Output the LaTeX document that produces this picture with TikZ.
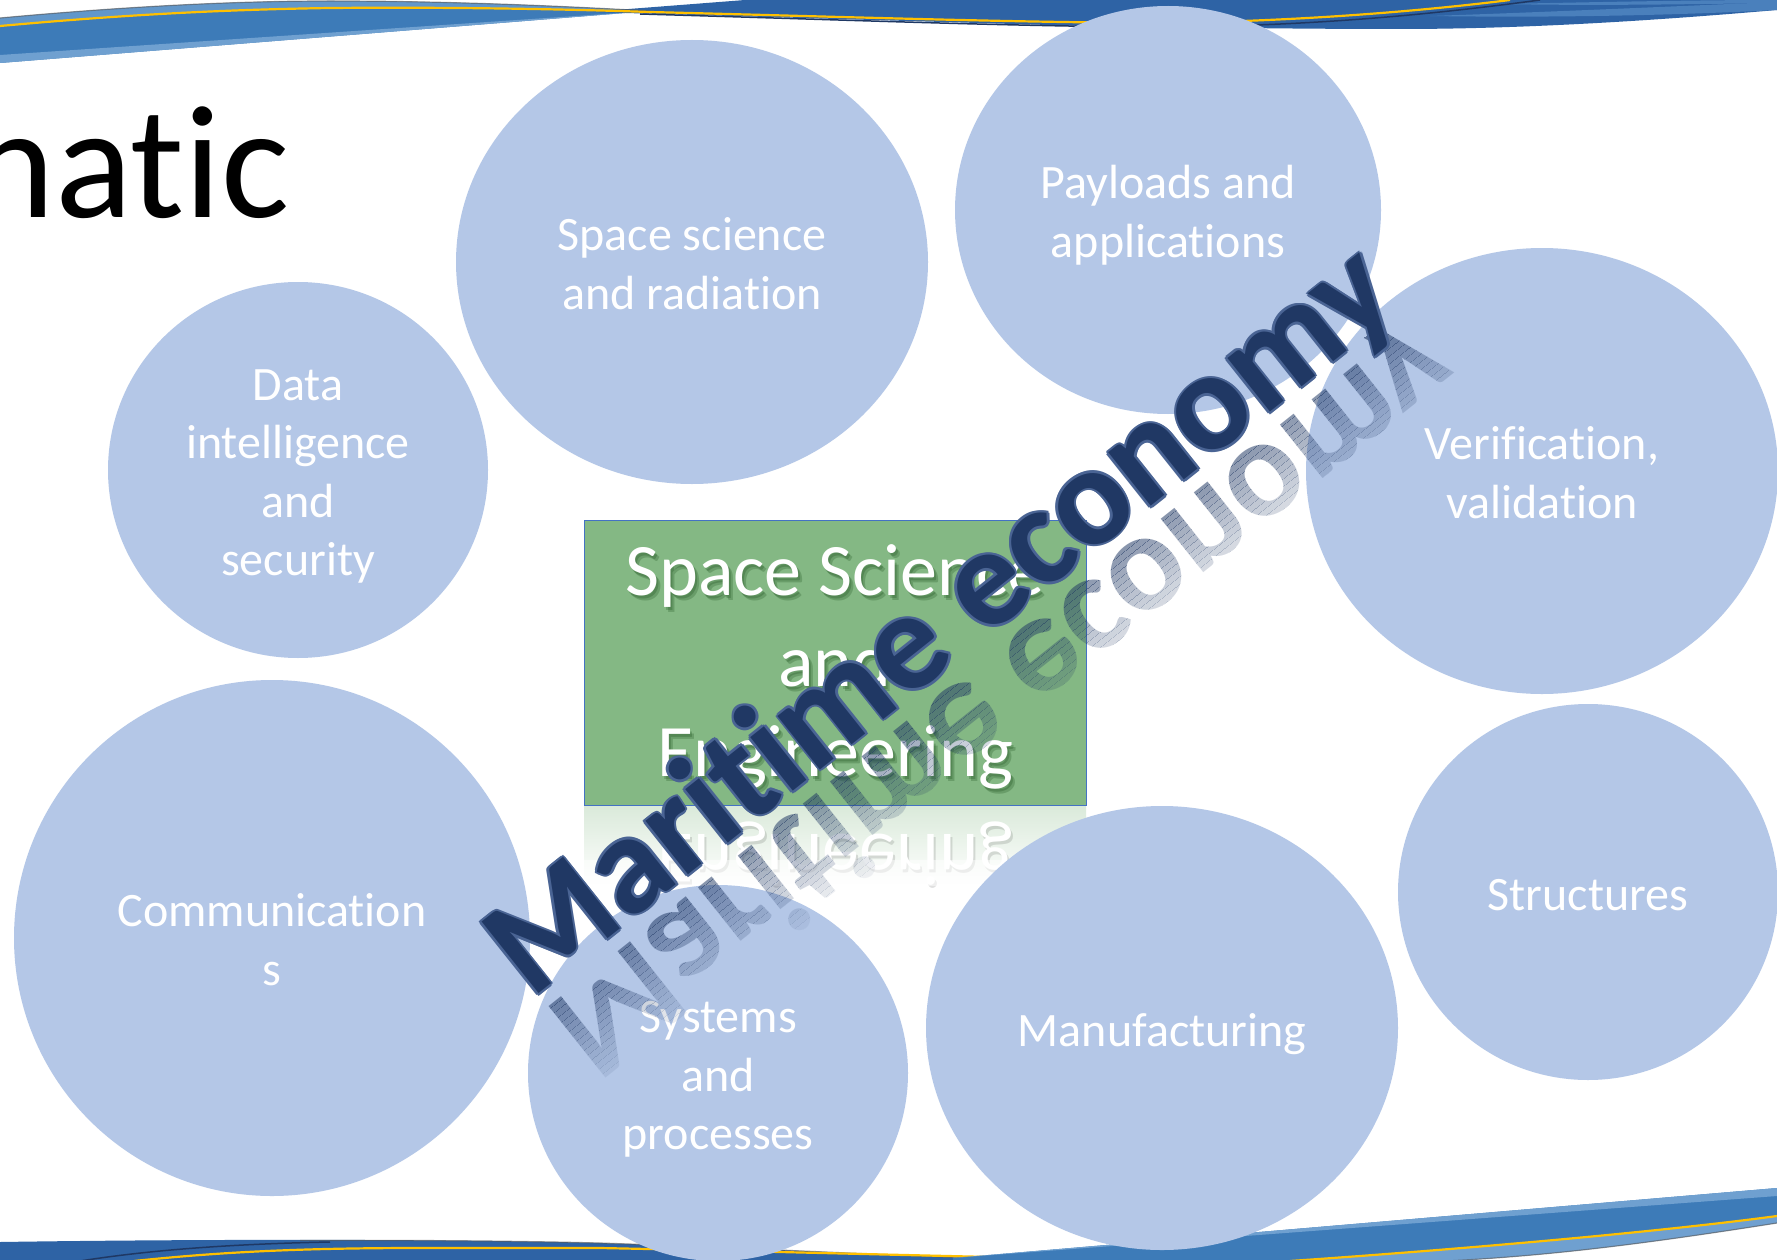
\documentclass[tikz,border=0pt]{standalone}
\usepackage{fontspec}
\setmainfont{Carlito}[RawFeature={-liga;-clig}]
\usetikzlibrary{shapes.geometric}
\definecolor{bubble}{HTML}{B4C7E7}
\definecolor{boxgreen}{HTML}{84B884}
\definecolor{boxedge}{HTML}{4472C4}
\definecolor{navy}{HTML}{203864}
\definecolor{navyedge}{HTML}{4A6494}
\definecolor{bandA}{HTML}{3D7BB8}
\definecolor{bandB}{HTML}{2E63A5}
\definecolor{bandLight}{HTML}{6FA0D0}
\definecolor{bandStreak}{HTML}{4A80BC}
\definecolor{gold}{HTML}{FFC000}
\definecolor{darkline}{HTML}{1F3864}
\newcommand{\tst}{\rule{0pt}{48pt}}
\newcommand{\bst}{\rule[-12pt]{0pt}{12pt}}
\newcommand{\nl}{\kern0pt{}}
\begin{document}
\begin{tikzpicture}[x=1pt,y=-1pt,
  bubblenode/.style={ellipse, fill=bubble, draw=none, inner sep=0pt, text=white, align=center,
    font=\fontsize{48}{58.5}\selectfont},
  boxtext/.style={anchor=base, inner sep=0pt, text=white, font=\fontsize{74}{91}\selectfont},
  boxshadow/.style={anchor=base, inner sep=0pt, text=black!80!green, opacity=0.2, font=\fontsize{74}{91}\selectfont},
  wa/.style={font=\fontsize{141}{141}\selectfont\bfseries, inner sep=0pt, rotate=38.5, anchor=base west},
  wafl/.style={font=\fontsize{141}{141}\selectfont\bfseries, inner sep=0pt, anchor=base west,
    transform shape, yscale=-1, text=navy},
  goldline/.style={gold, line width=2.2pt},
  navyline/.style={darkline, line width=1.5pt},
  edgeshadow/.style={gray!70!black, line width=1.2pt, opacity=0.6}
]
\useasboundingbox (0,0) rectangle (1777,1260);
\fill[white] (0,0) rectangle (1777,1260);

% ---------- top band ----------
\fill[bandA] (0,18) .. controls (120,7) and (230,1) .. (330,1) .. controls (450,1) and (560,6) .. (650,11) -- (0,63) -- cycle;
\fill[bandLight!75!bandA] (0,18) .. controls (120,7) and (230,1) .. (330,1) .. controls (450,1) and (560,6) .. (650,11)
   .. controls (560,9) and (450,7) .. (330,8) .. controls (200,10) and (100,17) .. (0,26) -- cycle;
\fill[bandLight] (0,55) -- (650,11) -- (0,63) -- cycle;
\fill[bandB] (590,12) -- (745,0) -- (1777,0) -- (1777,10) .. controls (1650,21) and (1520,29) .. (1400,29)
   .. controls (1280,29) and (1180,27) .. (1084,26) -- cycle;
\fill[bandStreak] (1430,16) .. controls (1550,12) and (1680,6) .. (1777,2) -- (1777,10) .. controls (1680,15) and (1560,18) .. (1430,16) -- cycle;
\fill[bandStreak] (1500,4) .. controls (1600,2) and (1700,0) .. (1777,0) -- (1777,3) .. controls (1700,4) and (1600,6) .. (1500,4) -- cycle;
\draw[edgeshadow] (0,18) .. controls (120,7) and (230,1) .. (330,1) .. controls (450,1) and (560,6) .. (650,11);
\draw[navyline] (640,14) .. controls (850,20) and (1000,26) .. (1150,27) .. controls (1320,27) and (1450,12) .. (1540,0);
\draw[goldline] (0,26) .. controls (100,17) and (200,10) .. (330,8) .. controls (450,7) and (560,9) .. (650,12)
   .. controls (850,17) and (1000,22) .. (1150,23) .. controls (1300,22) and (1430,10) .. (1510,0);

% ---------- bottom band ----------
\fill[bandB] (0,1242) .. controls (200,1239) and (450,1239) .. (600,1243) .. controls (750,1248) and (880,1255) .. (975,1258)
   -- (1000,1261) -- (0,1261) -- cycle;
\draw[edgeshadow] (300,1240.5) .. controls (420,1240) and (520,1241) .. (600,1243) .. controls (750,1248) and (880,1255) .. (975,1258);
\draw[navyline] (80,1261) .. controls (150,1250) and (230,1244) .. (330,1242);
\draw[goldline] (134,1261) .. controls (220,1252) and (300,1248) .. (420,1248) -- (600,1248) .. controls (800,1252) and (1000,1258) .. (1200,1261);
\fill[bandA] (953,1258) -- (1777,1188) -- (1777,1223) .. controls (1650,1243) and (1550,1256) .. (1445,1261) -- (953,1261) -- cycle;
\fill[bandLight] (953,1258) -- (1777,1188) -- (1777,1196) -- cycle;
\fill[bandLight] (1290,1261) .. controls (1450,1250) and (1650,1233) .. (1777,1216) -- (1777,1223)
   .. controls (1650,1243) and (1550,1256) .. (1445,1261) -- cycle;
\draw[goldline] (1290,1261) .. controls (1450,1250) and (1650,1233) .. (1777,1216);
\draw[edgeshadow] (1777,1223) .. controls (1650,1243) and (1550,1256) .. (1445,1261);

% ---------- reflection of the central box ----------
\shade[top color=boxgreen!30!white, bottom color=white] (584,806) rectangle (1086,885);
\node[anchor=base, inner sep=0pt, yscale=-1, text=black, opacity=0.12, font=\fontsize{74}{91}\selectfont] (reflshadow) at (837,837) {Engineering};
\node[anchor=base, inner sep=0pt, yscale=-1, text=white, font=\fontsize{74}{91}\selectfont] (refl) at (835,834) {Engineering};
\fill[white, opacity=0.5] (584,860) rectangle (1086,886);

% ---------- title ----------
\node[anchor=base east, inner sep=0pt, font=\fontsize{161}{161}\selectfont] (title) at (290,218) {nat\nl ic};

% ---------- bubbles ----------
\node[bubblenode, minimum width=472, minimum height=444] (sci) at (692,262) {\tst Space science\\and radiat\nl ion\bst};
\node[bubblenode, minimum width=426, minimum height=408] (pay) at (1168,210) {\tst Payloads and\\applicat\nl ions\bst};
\node[bubblenode, minimum width=380, minimum height=376] (data) at (298,470) {\tst Data\\intelligence\\and\\security\bst};
\node[bubblenode, minimum width=472, minimum height=446] (ver) at (1542,471) {\tst Veri\nl ficat\nl ion,\\validat\nl ion\bst};
\node[bubblenode, minimum width=516, minimum height=516] (com) at (272,938) {\tst Communicat\nl ion\\s\bst};
\node[bubblenode, minimum width=380, minimum height=376] (sys) at (718,1073) {\tst Systems\\and\\processes\bst};
\node[bubblenode, minimum width=472, minimum height=444] (man) at (1162,1028) {\tst Manufacturing\bst};
\node[bubblenode, minimum width=380, minimum height=376] (str) at (1588,892) {\tst Structures\bst};

% ---------- central box ----------
\node[draw=boxedge, line width=1pt, fill=boxgreen, minimum width=502, minimum height=285, inner sep=0pt] (box) at (835,663) {};
\node[boxshadow] (s1a) at (837,598) {Space Science};
\node[boxshadow] (s2a) at (837,689) {and};
\node[boxshadow] (s3a) at (837,779) {Engineering};
\node[boxshadow] (s1b) at (839,600) {Space Science};
\node[boxshadow] (s2b) at (839,691) {and};
\node[boxshadow] (s3b) at (839,781) {Engineering};
\node[boxtext] (t1) at (835,595) {Space Science};
\node[boxtext] (t2) at (835,686) {and};
\node[boxtext] (t3) at (835,776) {Engineering};

% ---------- WordArt reflection ----------
\begin{scope}[shift={(531,1000)}, rotate=38.5]
  \foreach \k in {0,...,21}{
    \pgfmathsetmacro{\a}{6*\k}
    \pgfmathsetmacro{\o}{0.6*(1-\k/22)^1.3}
    \begin{scope}
      \clip (-60,\a) rectangle (1300,\a+6.3);
      \node[wafl, opacity=\o] (ghost\k) at (0,16) {Marit\nl ime economy};
    \end{scope}
  }
\end{scope}

% ---------- WordArt ----------
\foreach \dx/\dy [count=\k] in {2.5/0,-2.5/0,0/2.5,0/-2.5,1.8/1.8,-1.8/1.8,1.8/-1.8,-1.8/-1.8}
  \node[wa, text=navyedge] (rim\k) at (531+\dx, 1000+\dy) {Marit\nl ime economy};
\node[wa, text=navy] (wordart) at (531,1000) {Marit\nl ime economy};
\end{tikzpicture}
\end{document}
